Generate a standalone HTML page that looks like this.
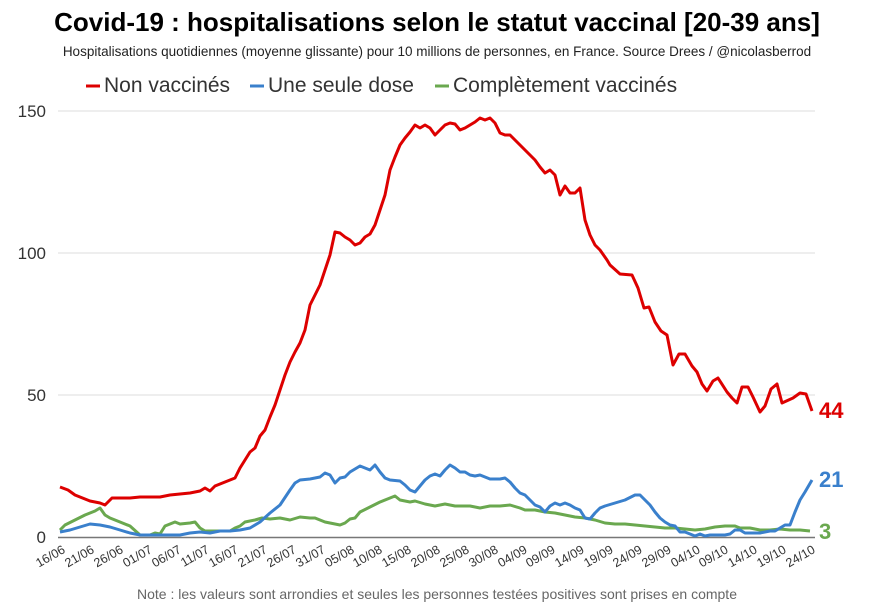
<!DOCTYPE html><html><head><meta charset="utf-8"><style>body{margin:0;background:#fff}svg{display:block;font-family:"Liberation Sans",Arial,sans-serif}</style></head><body>
<svg width="871" height="610" viewBox="0 0 871 610">
<text x="437" y="31" text-anchor="middle" font-size="26" font-weight="bold" fill="#000">Covid-19 : hospitalisations selon le statut vaccinal [20-39 ans]</text>
<text x="437" y="56" text-anchor="middle" font-size="13.5" fill="#222">Hospitalisations quotidiennes (moyenne glissante) pour 10 millions de personnes, en France. Source Drees / @nicolasberrod</text>
<g font-size="21" fill="#333">
<line x1="86" y1="86" x2="100" y2="86" stroke="#d00" stroke-width="3"/><text x="104" y="92">Non vaccinés</text>
<line x1="250" y1="86" x2="264" y2="86" stroke="#3a80cc" stroke-width="3"/><text x="268" y="92">Une seule dose</text>
<line x1="435" y1="86" x2="449" y2="86" stroke="#6aa84f" stroke-width="3"/><text x="453" y="92">Complètement vaccinés</text>
</g>
<g stroke="#ddd" stroke-width="1"><line x1="58" y1="111" x2="815" y2="111"/><line x1="58" y1="253" x2="815" y2="253"/><line x1="58" y1="395" x2="815" y2="395"/></g>
<line x1="58" y1="537.5" x2="815" y2="537.5" stroke="#777" stroke-width="1.5"/>
<g font-size="17" fill="#333" text-anchor="end"><text x="46" y="117">150</text><text x="46" y="259">100</text><text x="46" y="401">50</text><text x="46" y="543">0</text></g>
<g font-size="12.5" fill="#333" text-anchor="end">
<text transform="translate(66,552) rotate(-30)">16/06</text><text transform="translate(95,552) rotate(-30)">21/06</text><text transform="translate(124,552) rotate(-30)">26/06</text><text transform="translate(153,552) rotate(-30)">01/07</text><text transform="translate(182,552) rotate(-30)">06/07</text><text transform="translate(210,552) rotate(-30)">11/07</text><text transform="translate(239,552) rotate(-30)">16/07</text><text transform="translate(268,552) rotate(-30)">21/07</text><text transform="translate(297,552) rotate(-30)">26/07</text><text transform="translate(326,552) rotate(-30)">31/07</text><text transform="translate(355,552) rotate(-30)">05/08</text><text transform="translate(383,552) rotate(-30)">10/08</text><text transform="translate(412,552) rotate(-30)">15/08</text><text transform="translate(441,552) rotate(-30)">20/08</text><text transform="translate(470,552) rotate(-30)">25/08</text><text transform="translate(499,552) rotate(-30)">30/08</text><text transform="translate(528,552) rotate(-30)">04/09</text><text transform="translate(556,552) rotate(-30)">09/09</text><text transform="translate(585,552) rotate(-30)">14/09</text><text transform="translate(614,552) rotate(-30)">19/09</text><text transform="translate(643,552) rotate(-30)">24/09</text><text transform="translate(672,552) rotate(-30)">29/09</text><text transform="translate(701,552) rotate(-30)">04/10</text><text transform="translate(729,552) rotate(-30)">09/10</text><text transform="translate(758,552) rotate(-30)">14/10</text><text transform="translate(787,552) rotate(-30)">19/10</text><text transform="translate(816,552) rotate(-30)">24/10</text>
</g>
<g fill="none" stroke-width="3" stroke-linejoin="round">
<polyline stroke="#6aa84f" points="60,530 65,525 75,520 85,515 95,511 100,508 105,515 110,518 115,520 120,522 130,526 140,535 150,535 155,533 160,534 165,526 175,522 180,524 190,523 195,522 200,528 205,531 215,531 230,531 235,528 240,526 245,522 255,520 262,518 270,519 280,518 290,520 300,517 310,518 315,518 325,522 330,523 340,525 345,523 350,519 355,518 360,512 370,507 380,502 390,498 395,496 400,500 410,502 415,501 425,504 435,506 445,504 455,506 470,506 480,508 490,506 500,506 510,505 520,508 525,510 535,510 545,512 555,513 565,515 575,517 585,518 595,520 605,523 615,524 625,524 635,525 645,526 655,527 665,528 675,528 685,529 695,530 705,529 715,527 725,526 735,526 740,528 750,528 760,530 770,530 780,529 790,530 800,530 810,531"/>
<polyline stroke="#3a80cc" points="60,532 70,530 80,527 90,524 100,525 110,527 120,530 130,533 140,535 170,535 180,535 190,533 200,532 210,533 220,531 230,531 240,530 250,528 260,522 270,513 280,505 290,490 295,483 300,480 310,479 320,477 325,473 330,475 335,483 340,478 345,477 350,472 360,466 365,468 370,470 375,465 380,472 385,478 390,480 400,481 405,485 410,490 415,492 420,486 425,480 430,476 435,474 440,476 445,470 450,465 455,468 460,472 465,472 470,475 475,476 480,475 490,479 500,479 505,478 510,482 515,488 520,493 525,495 530,500 535,505 540,507 545,512 550,506 555,503 560,505 565,503 570,505 575,508 580,510 585,518 590,519 595,513 600,508 605,506 615,503 625,500 635,495 640,495 645,500 650,505 655,512 660,518 665,522 670,525 675,526 680,532 685,532 690,534 695,536 700,534 705,536 710,535 725,535 730,534 735,530 740,530 745,533 760,533 770,531 775,531 780,528 785,525 790,525 795,512 800,500 805,492 812,480"/>
<polyline stroke="#d00" points="60,487 68,490 75,495 90,501 100,503 105,505 112,498 120,498 130,498 140,497 160,497 170,495 180,494 190,493 200,491 205,488 210,491 215,486 225,482 235,478 240,468 245,460 250,452 255,448 260,436 265,430 270,417 275,405 280,390 285,375 290,362 295,352 300,343 305,330 310,305 315,295 320,285 325,270 330,255 335,232 340,233 345,237 350,240 355,245 360,243 365,237 370,234 375,225 380,210 385,195 390,170 395,157 400,145 405,138 410,132 415,125 420,128 425,125 430,128 435,135 440,130 445,125 450,123 455,124 460,130 465,128 470,125 475,122 480,118 485,120 490,118 495,123 500,133 505,135 510,135 515,140 520,145 525,150 530,155 535,160 540,167 545,173 550,170 555,175 560,195 565,186 570,193 575,193 580,188 585,220 590,235 595,245 600,250 607,260 610,265 620,274 632,275 638,288 644,308 649,307 655,322 661,331 667,335 673,365 679,354 685,354 692,366 697,372 702,384 707,391 713,381 718,378 727,392 732,398 737,403 742,387 748,387 753,397 760,412 765,406 771,389 777,384 782,403 793,398 800,393 806,394 812,411"/>
</g>
<g font-size="22" font-weight="bold"><text x="819" y="418" fill="#d00">44</text><text x="819" y="487" fill="#3a80cc">21</text><text x="819" y="539" fill="#6aa84f">3</text></g>
<text x="437" y="599" text-anchor="middle" font-size="14" fill="#666">Note : les valeurs sont arrondies et seules les personnes testées positives sont prises en compte</text>
</svg></body></html>
